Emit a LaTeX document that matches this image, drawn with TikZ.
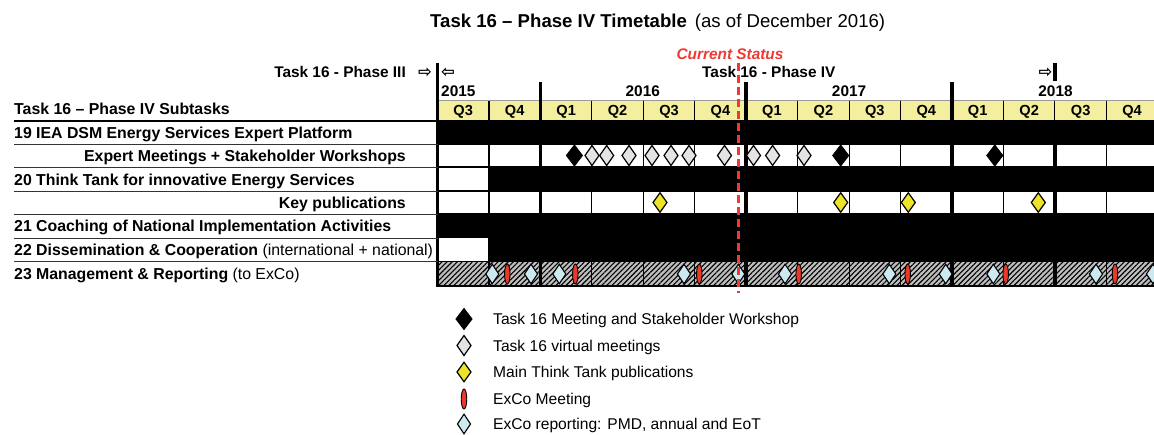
\documentclass[tikz,border=0pt]{standalone}
\usepackage{fontspec}
\setmainfont{Liberation Sans}
\newfontfamily\symfont{DejaVu Sans}
\usetikzlibrary{shapes.geometric,patterns.meta}
\definecolor{qyellow}{RGB}{243,239,158}
\definecolor{pubyellow}{RGB}{236,228,40}
\definecolor{vgray}{RGB}{228,228,228}
\definecolor{repblue}{RGB}{204,233,240}
\definecolor{excored}{RGB}{232,57,43}
\definecolor{statusred}{RGB}{238,58,52}
\definecolor{hatchgray}{RGB}{190,190,190}
\begin{document}
\begin{tikzpicture}[x=1pt,y=-1pt,
  lbl/.style={inner sep=0,font=\fontsize{15.85}{18}\selectfont\bfseries},
  hdr/.style={inner sep=0,font=\fontsize{15.4}{18}\selectfont\bfseries},
  qlbl/.style={inner sep=0,font=\fontsize{14.6}{17}\selectfont\bfseries,anchor=base},
  leg/.style={inner sep=0,font=\fontsize{15.6}{18}\selectfont,anchor=base west},
  arr/.style={inner sep=0,font=\fontsize{16.5}{18}\symfont\bfseries,anchor=base},
  mtg/.style={diamond,draw=black,fill=black,line width=0.8pt,inner sep=0,minimum width=16.5pt,minimum height=21.5pt},
  vmtg/.style={diamond,draw=black,fill=vgray,line width=1.2pt,inner sep=0,minimum width=14.5pt,minimum height=20.5pt},
  pub/.style={diamond,draw=black,fill=pubyellow,line width=1.2pt,inner sep=0,minimum width=14.5pt,minimum height=20pt},
  rep/.style={diamond,draw=black,fill=repblue,line width=1.1pt,inner sep=0,minimum width=13.5pt,minimum height=20pt},
  exco/.style={ellipse,draw=black,fill=excored,line width=0.9pt,inner sep=0,minimum width=5.5pt,minimum height=20pt},
  qline/.style={line width=1.1pt,black},
  yline/.style={line width=3.6pt,black},
  sepline/.style={line width=1pt,black!80},
]
\path[use as bounding box,fill=white] (0,0) rectangle (1154,434);

% title
\node[anchor=base west,inner sep=0,font=\fontsize{18.6}{22}\selectfont] (title) at (430,27)
  {\textbf{Task 16 – Phase IV Timetable}\hspace{8pt}(as of December 2016)};

% phase header
\node[hdr,anchor=base,text=statusred,font=\fontsize{15.4}{18}\selectfont\bfseries\itshape] (status) at (730,59.5) {Current Status};
\node[hdr,anchor=base east] (ph3) at (406,77.5) {Task 16 - Phase III};
\node[arr] (ar1) at (425,77) {⇨};
\node[arr] (ar2) at (448,77) {⇦};
\node[hdr,anchor=base west] (ph4) at (702,77.5) {Task 16 - Phase IV};
\node[arr] (ar3) at (1045.5,77) {⇨};

% years
\node[hdr,anchor=base west] (y15) at (441,96) {2015};
\node[hdr,anchor=base] (y16) at (642.8,96) {2016};
\node[hdr,anchor=base] (y17) at (849.1,96) {2017};
\node[hdr,anchor=base] (y18) at (1055.5,96) {2018};

% subtasks header
\node[lbl,anchor=base west] (subh) at (14,114.5) {Task 16 – Phase IV Subtasks};

% grid fills
\fill[qyellow] (437.5,100.5) rectangle (1160,120);
\draw[line width=1pt,black!40] (437.5,100.5) -- (1160,100.5);
\fill[hatchgray] (437.5,262) rectangle (1160,286);
\fill[pattern={Lines[angle=45,distance=3.6pt,line width=1.1pt]},pattern color=black] (437.5,262) rectangle (1160,286);
\fill[black] (437.5,120) rectangle (1160,144.5);
\fill[black] (488.95,167) rectangle (1160,191);
\fill[black] (437.5,214) rectangle (1160,238);
\fill[black] (488.95,238) rectangle (1160,261.5);

% thin dividers
\foreach \k in {1,3,4,5,7,8,9,11,12,13}
  \draw[qline] ({437.5+51.45*\k},100.5) -- ({437.5+51.45*\k},286);
\foreach \y in {144.5,167,191,214,261.5}
  \draw[qline] (437.5,\y) -- (1160,\y);
\draw[line width=2pt] (437.5,286) -- (1160,286);

% thick lines
\draw[yline] (437.5,62.5) -- (437.5,287);
\foreach \k in {2,6,10}
  \draw[yline] ({437.5+51.45*\k},82) -- ({437.5+51.45*\k},287);
\draw[yline] (1054.9,62.5) -- (1054.9,81);
\draw[yline] (1054.9,120) -- (1054.9,287);

% quarter labels
\foreach \q [count=\i] in {Q3,Q4,Q1,Q2,Q3,Q4,Q1,Q2,Q3,Q4,Q1,Q2,Q3,Q4}
  \node[qlbl] (q\i) at ({437.5+51.45*(\i-0.5)},115.5) {\q};

% left separators
\draw[line width=1.8pt] (14,121) -- (437.5,121);
\foreach \y in {144.5,167,191,214,238,261.5}
  \draw[sepline] (14,\y) -- (437.5,\y);

% row labels
\node[lbl,anchor=base west] (r19) at (14,138) {19 IEA DSM Energy Services Expert Platform};
\node[lbl,anchor=base east] (rem) at (406,161.5) {Expert Meetings + Stakeholder Workshops};
\node[lbl,anchor=base west] (r20) at (14,185) {20 Think Tank for innovative Energy Services};
\node[lbl,anchor=base east] (rkp) at (406,208) {Key publications};
\node[lbl,anchor=base west] (r21) at (14,231.5) {21 Coaching of National Implementation Activities};
\node[lbl,anchor=base west] (r22) at (14,255) {22 Dissemination \& Cooperation \mdseries(international + national)};
\node[lbl,anchor=base west] (r23) at (14,279) {23 Management \& Reporting \mdseries(to ExCo)};

% expert meetings
\foreach \x [count=\i] in {574.4,840.7,994.8}
  \node[mtg] (m\i) at (\x,155.5) {};
\foreach \x [count=\i] in {592,606.7,629,652,671,689,724.5,753.5,772.6,804}
  \node[vmtg] (v\i) at (\x,155.5) {};
% publications
\foreach \x [count=\i] in {660,840.7,908.3,1038.3}
  \node[pub] (p\i) at (\x,202.5) {};
% management & reporting
\foreach \x [count=\i] in {492.3,531,559.3,684,738.3,785,889.3,945.7,993.3,1096,1153}
  \node[rep] (b\i) at (\x,274) {};
\foreach \x [count=\i] in {507.3,575.3,699.3,798.7,907.7,1005.7,1115}
  \node[exco] (e\i) at (\x,274) {};

% current status line
\draw[statusred,line width=3pt,dash pattern=on 8pt off 4pt] (738,62.5) -- (738,293);

% legend
\node[mtg] (lg1) at (464,319) {};
\node[vmtg] (lg2) at (464,345.5) {};
\node[pub] (lg3) at (464,372) {};
\node[exco] (lg4) at (464,399) {};
\node[rep] (lg5) at (464,424) {};
\node[leg] (lt1) at (493,324.5) {Task 16 Meeting and Stakeholder Workshop};
\node[leg] (lt2) at (493,351) {Task 16 virtual meetings};
\node[leg] (lt3) at (493,377.5) {Main Think Tank publications};
\node[leg] (lt4) at (493,404.5) {ExCo Meeting};
\node[leg] (lt5) at (493,429.5) {ExCo reporting: PMD, annual and EoT};
\end{tikzpicture}
\end{document}
